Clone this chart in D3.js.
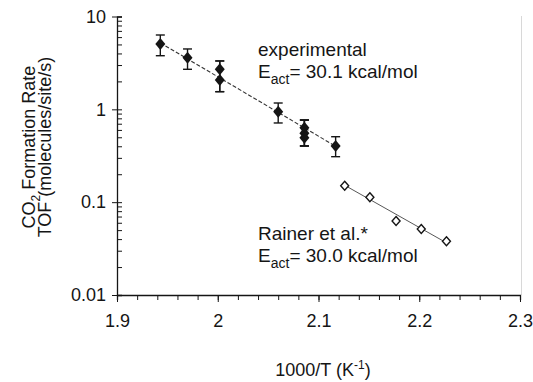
<!DOCTYPE html>
<html>
<head>
<meta charset="utf-8">
<script src="https://cdn.jsdelivr.net/npm/d3@7"></script>
<style>
  html, body { margin: 0; padding: 0; background: #fff; }
  svg { display: block; font-family: "Liberation Sans", Arial, Helvetica, sans-serif; }
</style>
</head>
<body>
<svg id="chart" width="533" height="382"></svg>
<script>
// ---- data ----
const expX      = [1.943, 1.970, 2.002, 2.002, 2.060, 2.086, 2.086, 2.086, 2.117];
const expY      = [5.06, 3.60, 2.70, 2.07, 0.943, 0.634, 0.552, 0.494, 0.403];
const expErrLow = [3.78, 2.70, 1.55, 1.55, 0.713, 0.403, 0.403, 0.403, 0.309];
const expErrHigh= [6.32, 4.47, 3.32, 3.32, 1.17, 0.767, 0.767, 0.767, 0.507];
const rainerX   = [2.126, 2.151, 2.177, 2.202, 2.227];
const rainerY   = [0.150, 0.113, 0.0627, 0.0514, 0.0379];
const expFitX   = [1.943, 2.117];
const expFitY   = [5.2, 0.40];
const rainerFitX= [2.126, 2.227];
const rainerFitY= [0.152, 0.0365];
const xTicks    = [1.9, 2.0, 2.1, 2.2, 2.3];
const xTickLabels = ["1.9", "2", "2.1", "2.2", "2.3"];
const yTicks    = [0.01, 0.1, 1, 10];
const yTickLabels = ["0.01", "0.1", "1", "10"];

const svg = d3.select("#chart");
const ink = "#151515";

const x = d3.scaleLinear().domain([1.9, 2.3]).range([117, 520]);
const y = d3.scaleLog().domain([0.01, 10]).range([295, 16.5]);

// right frame (faint dotted)
svg.append("line")
  .attr("x1", x(2.3) + 1.5).attr("x2", x(2.3) + 1.5)
  .attr("y1", y(10)).attr("y2", y(0.01))
  .attr("stroke", "#b0b0b0").attr("stroke-width", 1)
  .attr("stroke-dasharray", "1,1");

// ---- x axis ----
const xAxisG = svg.append("g").attr("transform", `translate(0,${y(0.01)})`);
const xMinor = d3.range(1.9, 2.3001, 0.02).map(v => +v.toFixed(2));
xAxisG.call(d3.axisBottom(x).tickValues(xMinor).tickSize(5).tickFormat(""));
xAxisG.append("g").call(d3.axisBottom(x).tickValues(xTicks).tickSize(7)
  .tickFormat((d, i) => xTickLabels[i]));
xAxisG.selectAll(".domain").attr("stroke", ink).attr("stroke-width", 1.3);
xAxisG.selectAll(".tick line").attr("stroke", ink).attr("stroke-width", 1);
xAxisG.selectAll(".tick text").attr("font-size", 18).attr("fill", ink)
  .attr("y", 19).attr("dy", "0.71em").style("font-family", "Liberation Sans, Arial, sans-serif");
xAxisG.selectAll("g > g .domain").remove();

// ---- y axis ----
const yAxisG = svg.append("g").attr("transform", `translate(${x(1.9)},0)`);
const yMinor = [];
[0.01, 0.1, 1].forEach(dec => { for (let k = 2; k <= 9; k++) yMinor.push(dec * k); });
yAxisG.call(d3.axisRight(y).tickValues(yMinor).tickSize(5).tickFormat(""));
const yMajorG = yAxisG.append("g").call(d3.axisLeft(y).tickValues(yTicks).tickSize(5)
  .tickFormat((d, i) => yTickLabels[i]));
yMajorG.selectAll(".tick line").attr("x1", 5);
yAxisG.selectAll(".domain").attr("stroke", ink).attr("stroke-width", 1.3);
yMajorG.select(".domain").remove();
yAxisG.selectAll(".tick line").attr("stroke", ink).attr("stroke-width", 1);
yAxisG.selectAll(".tick text").attr("font-size", 18).attr("fill", ink)
  .attr("x", -11).style("font-family", "Liberation Sans, Arial, sans-serif");

// ---- fit lines ----
const line = d3.line().x(d => x(d[0])).y(d => y(d[1]));
svg.append("path")
  .attr("d", line(expFitX.map((v, i) => [v, expFitY[i]])))
  .attr("fill", "none").attr("stroke", "#333").attr("stroke-width", 1.1)
  .attr("stroke-dasharray", "4,2");
svg.append("path")
  .attr("d", line(rainerFitX.map((v, i) => [v, rainerFitY[i]])))
  .attr("fill", "none").attr("stroke", "#444").attr("stroke-width", 0.9);

// ---- error bars ----
const capW = 4.5;
const eb = svg.append("g").attr("stroke", ink).attr("stroke-width", 1.4);
expX.forEach((xv, i) => {
  const cx = x(xv);
  eb.append("line").attr("x1", cx).attr("x2", cx)
    .attr("y1", y(expErrLow[i])).attr("y2", y(expErrHigh[i]));
  eb.append("line").attr("x1", cx - capW).attr("x2", cx + capW)
    .attr("y1", y(expErrLow[i])).attr("y2", y(expErrLow[i]));
  eb.append("line").attr("x1", cx - capW).attr("x2", cx + capW)
    .attr("y1", y(expErrHigh[i])).attr("y2", y(expErrHigh[i]));
});

// ---- markers ----
const diamond = (w, h) => `M0,${-h/2}L${w/2},0L0,${h/2}L${-w/2},0Z`;
svg.append("g").selectAll("path").data(expX).join("path")
  .attr("d", diamond(10, 12))
  .attr("transform", (d, i) => `translate(${x(d)},${y(expY[i])})`)
  .attr("fill", ink);
svg.append("g").selectAll("path").data(rainerX).join("path")
  .attr("d", diamond(8, 9))
  .attr("transform", (d, i) => `translate(${x(d)},${y(rainerY[i])})`)
  .attr("fill", "#fff").attr("stroke", ink).attr("stroke-width", 1.4);

// ---- annotations ----
const ann = svg.append("g").attr("fill", ink).attr("font-size", 19);
ann.append("text").attr("x", 258).attr("y", 56).text("experimental");
const e1 = ann.append("text").attr("x", 258).attr("y", 78);
e1.append("tspan").text("E");
e1.append("tspan").attr("font-size", 14).attr("dy", 6).text("act");
e1.append("tspan").attr("dy", -6).text("= 30.1 kcal/mol");
ann.append("text").attr("x", 258).attr("y", 240).text("Rainer et al.*");
const e2 = ann.append("text").attr("x", 258).attr("y", 262);
e2.append("tspan").text("E");
e2.append("tspan").attr("font-size", 14).attr("dy", 6).text("act");
e2.append("tspan").attr("dy", -6).text("= 30.0 kcal/mol");

// ---- axis titles ----
const xt = svg.append("text").attr("x", 323).attr("y", 376)
  .attr("text-anchor", "middle").attr("font-size", 18).attr("fill", ink);
xt.append("tspan").text("1000/T (K");
xt.append("tspan").attr("font-size", 12).attr("dy", -7).text("-1");
xt.append("tspan").attr("dy", 7).text(")");

const yt = svg.append("g").attr("transform", "translate(0,147) rotate(-90)")
  .attr("font-size", 18).attr("fill", ink).attr("text-anchor", "middle");
const yt1 = yt.append("text").attr("x", 0).attr("y", 35);
yt1.append("tspan").text("CO");
yt1.append("tspan").attr("font-size", 12).attr("dy", 5).text("2");
yt1.append("tspan").attr("dy", -5).text(" Formation Rate");
yt.append("text").attr("x", 0).attr("y", 51).text("TOF (molecules/site/s)");
</script>
</body>
</html>
